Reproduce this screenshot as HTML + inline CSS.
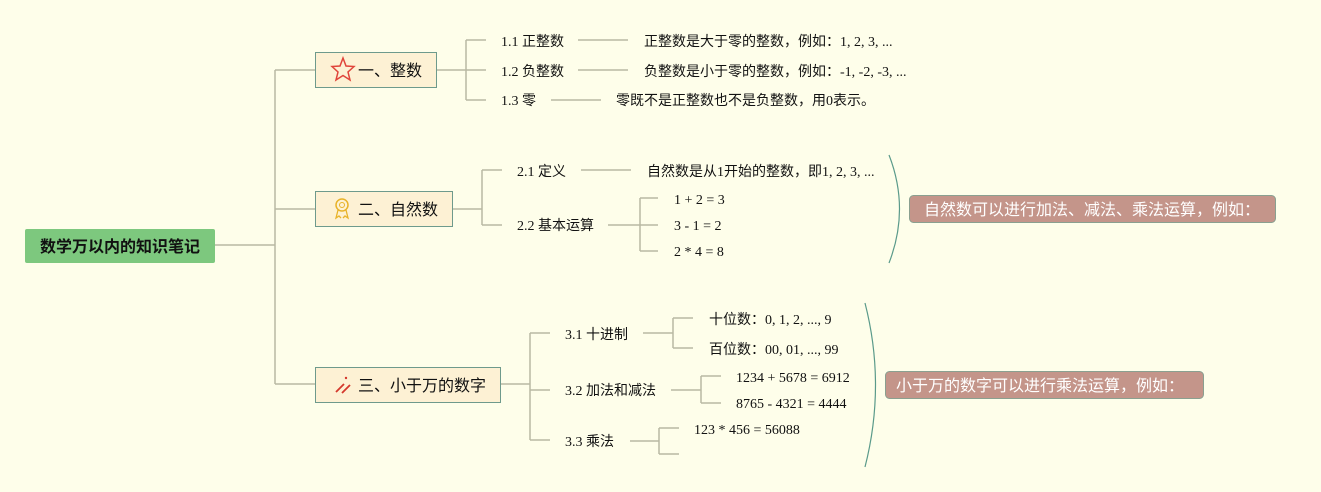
<!DOCTYPE html>
<html><head><meta charset="utf-8"><style>
html,body{margin:0;padding:0;background:#fefeea;}
svg{display:block;font-family:"Liberation Serif","Noto Sans CJK SC",serif;}
.t{font-size:14px;fill:#111;}
.n{font-family:"Liberation Sans","Noto Sans CJK SC",sans-serif;font-size:16px;fill:#111;}
</style></head><body>
<svg width="1321" height="492" viewBox="0 0 1321 492" xmlns="http://www.w3.org/2000/svg">
<rect width="1321" height="492" fill="#fefeea"/>
<g fill="none" stroke="#b9b9a3" stroke-width="1.5">
<path d="M215 245H275M275 70V384M275 70H315M275 209H315M275 384H315"/>
<path d="M436 70H466M466 40V100M466 40H486M466 70H486M466 100H486"/>
<path d="M578 40H628M578 70H628M551 100H601"/>
<path d="M452 209H482M482 170V225M482 170H502M482 225H502M581 170H631"/>
<path d="M608 225H640M640 198V251M640 198H658M640 225H658M640 251H658"/>
<path d="M500 384H530M530 333V440M530 333H550M530 390H550M530 440H550"/>
<path d="M643 333H673M673 318V348M673 318H693M673 348H693"/>
<path d="M671 390H701M701 376V403M701 376H721M701 403H721"/>
<path d="M630 441H659M659 428V454M659 428H679M659 454H679"/>
</g>
<g fill="none" stroke="#5a9a8a" stroke-width="1.2">
<path d="M889 155Q910 209 889 263"/>
<path d="M865 303Q886 385 865 467"/>
</g>
<rect x="25" y="229" width="190" height="34" rx="2" fill="#7dc87e"/>
<text x="120" y="252" text-anchor="middle" style="font-family:'Liberation Sans','Noto Sans CJK SC',sans-serif;font-size:16px;font-weight:bold;fill:#111">数学万以内的知识笔记</text>
<g fill="#fdf1d4" stroke="#6e9a8c" stroke-width="1">
<rect x="315.5" y="52.5" width="121" height="35"/>
<rect x="315.5" y="191.5" width="137" height="35"/>
<rect x="315.5" y="367.5" width="185" height="35"/>
</g>
<path d="M343 58L346 66L354 66.5L348 72L350 80L343 75.5L336 80L338 72L332 66.5L340 66Z" fill="none" stroke="#e0443a" stroke-width="1.5"/>
<text x="358" y="76" class="n">一、整数</text>
<circle cx="342" cy="205" r="6" fill="none" stroke="#e8b32a" stroke-width="1.5"/>
<circle cx="342" cy="205" r="2.5" fill="none" stroke="#e8b32a" stroke-width="1"/>
<path d="M338 210L336 218L339 216L341 218M346 210L348 218L345 216L343 218" fill="none" stroke="#e8b32a" stroke-width="1.3"/>
<text x="358" y="215" class="n">二、自然数</text>
<path d="M336 392L344 384M342 393L350 385" stroke="#d4382c" stroke-width="1.8"/>
<circle cx="346" cy="378" r="1.2" fill="#d4382c"/>
<text x="358" y="391" class="n">三、小于万的数字</text>
<g class="t">
<text x="501" y="46">1.1 正整数</text>
<text x="501" y="76">1.2 负整数</text>
<text x="501" y="105">1.3 零</text>
<text x="644" y="46">正整数是大于零的整数，例如：1, 2, 3, ...</text>
<text x="644" y="76">负整数是小于零的整数，例如：-1, -2, -3, ...</text>
<text x="616" y="105">零既不是正整数也不是负整数，用0表示。</text>
<text x="517" y="176">2.1 定义</text>
<text x="517" y="230">2.2 基本运算</text>
<text x="647" y="176">自然数是从1开始的整数，即1, 2, 3, ...</text>
<text x="674" y="204">1 + 2 = 3</text>
<text x="674" y="230">3 - 1 = 2</text>
<text x="674" y="256">2 * 4 = 8</text>
<text x="565" y="339">3.1 十进制</text>
<text x="565" y="395">3.2 加法和减法</text>
<text x="565" y="446">3.3 乘法</text>
<text x="709" y="324">十位数：0, 1, 2, ..., 9</text>
<text x="709" y="354">百位数：00, 01, ..., 99</text>
<text x="736" y="382">1234 + 5678 = 6912</text>
<text x="736" y="408">8765 - 4321 = 4444</text>
<text x="694" y="434">123 * 456 = 56088</text>
</g>
<rect x="909.5" y="195.5" width="366" height="27" rx="4" fill="#c4958a" stroke="#8aa090"/>
<text x="1092" y="215" text-anchor="middle" class="n" style="fill:#fff">自然数可以进行加法、减法、乘法运算，例如：</text>
<rect x="885.5" y="371.5" width="318" height="27" rx="4" fill="#c4958a" stroke="#8aa090"/>
<text x="1040" y="391" text-anchor="middle" class="n" style="fill:#fff">小于万的数字可以进行乘法运算，例如：</text>
</svg>
</body></html>
